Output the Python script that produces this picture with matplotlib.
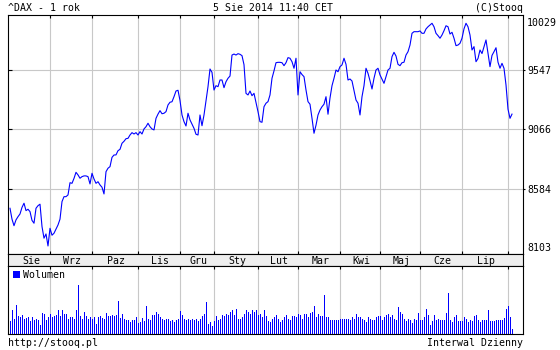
import matplotlib
matplotlib.use("Agg")
import matplotlib.pyplot as plt
import numpy as np

# DAX daily close, one value per session (Aug 2013 - Aug 2014)
close = [
    8428, 8340, 8287, 8334, 8360, 8382, 8435, 8469, 8409, 8420,
    8401, 8330, 8307, 8428, 8449, 8461, 8280, 8186, 8220, 8123,
    8266, 8210, 8226, 8260, 8293, 8340, 8482, 8522, 8522, 8536,
    8635, 8630, 8670, 8719, 8698, 8671, 8684, 8690, 8690, 8684,
    8625, 8711, 8665, 8630, 8643, 8617, 8598, 8544, 8724, 8752,
    8765, 8840, 8859, 8860, 8894, 8905, 8954, 8970, 8991, 8994,
    9021, 9040, 9029, 9040, 9021, 9048, 9029, 9070, 9088, 9116,
    9088, 9070, 9062, 9156, 9190, 9218, 9193, 9197, 9210, 9264,
    9286, 9290, 9331, 9377, 9383, 9300, 9183, 9129, 9094, 9197,
    9143, 9108, 9075, 9027, 9021, 9183, 9096, 9183, 9300, 9412,
    9555, 9528, 9385, 9420, 9412, 9466, 9466, 9404, 9452, 9480,
    9498, 9668, 9676, 9668, 9679, 9674, 9663, 9590, 9358, 9345,
    9377, 9339, 9358, 9286, 9210, 9129, 9124, 9250, 9278, 9291,
    9345, 9480, 9540, 9606, 9609, 9609, 9606, 9582, 9606, 9647,
    9642, 9614, 9561, 9642, 9345, 9533, 9510, 9493, 9385, 9291,
    9270, 9156, 9035, 9100, 9183, 9223, 9250, 9270, 9331, 9189,
    9320, 9420, 9480, 9547, 9533, 9574, 9588, 9642, 9593, 9466,
    9474, 9458, 9380, 9304, 9278, 9183, 9331, 9420, 9561, 9520,
    9460, 9393, 9480, 9547, 9561, 9507, 9474, 9439, 9493, 9547,
    9561, 9655, 9690, 9660, 9593, 9582, 9606, 9610, 9668, 9695,
    9749, 9844, 9857, 9857, 9857, 9863, 9844, 9844, 9879, 9897,
    9911, 9925, 9897, 9844, 9825, 9804, 9830, 9865, 9905, 9897,
    9838, 9852, 9804, 9744, 9749, 9763, 9804, 9880, 9925, 9897,
    9830, 9709, 9736, 9614, 9640, 9709, 9680, 9736, 9790, 9682,
    9574, 9665, 9695, 9727, 9610, 9561, 9601, 9561, 9426, 9230,
    9156, 9190,
]

# daily volume (arbitrary units)
volume = [
    38, 70, 45, 85, 52, 50, 55, 45, 48, 50,
    38, 50, 40, 45, 40, 25, 62, 60, 40, 50,
    58, 50, 52, 55, 72, 52, 72, 60, 58, 45,
    50, 50, 45, 70, 145, 52, 45, 65, 52, 45,
    50, 45, 50, 28, 50, 52, 48, 45, 62, 53,
    52, 57, 52, 55, 97, 48, 60, 45, 42, 40,
    35, 42, 40, 50, 32, 35, 48, 38, 82, 45,
    40, 55, 55, 64, 58, 50, 45, 40, 45, 45,
    38, 42, 35, 40, 45, 67, 55, 45, 40, 45,
    40, 45, 40, 45, 38, 45, 52, 58, 95, 28,
    35, 22, 38, 52, 40, 45, 55, 52, 60, 55,
    65, 72, 55, 75, 45, 45, 50, 60, 72, 65,
    60, 72, 65, 72, 55, 60, 50, 70, 52, 38,
    35, 45, 50, 55, 45,
    35, 40, 50, 55, 45, 40, 52, 52, 50, 58,
    55, 45, 60, 60, 50, 62, 65, 82, 50, 58,
    52, 52, 115, 50, 50, 42, 40, 40, 40, 42,
    43, 43, 43, 45, 45, 40, 50, 45, 58, 50,
    50, 45, 42, 35, 50, 45, 42, 40, 50, 52,
    52, 42, 50, 55, 58, 50, 55, 45, 40, 80,
    65, 58, 45, 38, 45, 40, 32, 45, 40, 62,
    40, 42, 50, 75, 57, 25, 38, 55, 40, 45,
    40, 42, 42, 62, 122, 40, 35, 50, 55, 38,
    38, 38, 50, 45, 35, 40, 38, 52, 55, 40,
    35, 42, 42, 40, 70, 38, 38, 38, 40, 42,
    42, 40, 47, 75, 82, 50, 13,
]

month_names = ['Sie', 'Wrz', 'Paz', 'Lis', 'Gru', 'Sty', 'Lut', 'Mar', 'Kwi', 'Maj', 'Cze', 'Lip']
month_start = [21, 42, 65, 86, 103, 125, 145, 166, 186, 206, 227, 250]   # session index
y_ticks = [8584, 9066, 9547]
y_low, y_high = 8103, 10029

sessions = np.arange(1, len(close) + 1)
vol_sessions = np.arange(1, len(volume) + 1)

###---------------- layout (pixel boxes) ----------------###
W, H = 560, 350
def box(l, t, r, b):
    return [l / W, 1 - b / H, (r - l) / W, (b - t) / H]

font = 'DejaVu Sans Mono'
fs = 7.1
blue = '#0000ff'
grid_c = '#c8c8c8'
x_lim = (0, 257.5)

fig = plt.figure(figsize=(W / 100, H / 100), dpi=100)
ax = fig.add_axes(box(8, 15, 523, 254))
band = fig.add_axes(box(8, 254, 523, 266))
axv = fig.add_axes(box(8, 266, 523, 334))

###---------------- price panel ----------------###
ax.plot(sessions, close, color=blue, lw=0.8, zorder=3)
ax.set_xlim(*x_lim)
ax.set_ylim(8058, 9992)
ax.set_xticks(month_start)
ax.set_xticklabels([])
ax.set_yticks(y_ticks)
ax.set_yticklabels([str(v) for v in y_ticks], fontsize=fs, family=font)
ax.yaxis.set_ticks_position('right')
ax.yaxis.set_minor_locator(matplotlib.ticker.FixedLocator(y_ticks))
ax.yaxis.remove_overlapping_locs = False
ax.tick_params(axis='y', which='major', direction='out', length=1.5, width=0.8,
               pad=1.4, left=False, right=True, labelleft=False, labelright=True)
ax.tick_params(axis='y', which='minor', direction='in', length=2.9, width=0.8,
               left=True, right=False)
ax.tick_params(axis='x', direction='in', length=2.5, width=0.8, top=True, bottom=True)
ax.grid(True, color=grid_c, lw=0.8)
ax.set_axisbelow(True)
for sp in ax.spines.values():
    sp.set_linewidth(0.8)
ax.text(1 + 4 / 515, 1 - 7.5 / 239, str(y_high), transform=ax.transAxes,
        fontsize=fs, family=font, va='center', ha='left')
ax.text(1 + 4 / 515, y_low, str(y_low),
        transform=matplotlib.transforms.blended_transform_factory(ax.transAxes, ax.transData),
        fontsize=fs, family=font, va='center', ha='left')

###---------------- month band ----------------###
band.set_facecolor('#eeeeee')
band.set_xlim(*x_lim)
band.set_ylim(0, 1)
band.set_xticks([])
band.set_yticks([])
for sp in band.spines.values():
    sp.set_linewidth(0.8)
edges = [1] + month_start
for i, name in enumerate(month_names):
    band.text((edges[i] + edges[i + 1]) / 2 + 0.6, 0.17, name, ha='center', va='baseline',
              fontsize=fs, family=font)

###---------------- volume panel ----------------###
bars = axv.bar(vol_sessions, volume, width=0.5, align='edge', color=blue, lw=0,
               antialiased=False, label='Wolumen')
axv.set_xlim(*x_lim)
axv.set_ylim(-1.5, 202.5)
axv.set_xticks(month_start)
axv.set_xticklabels([])
axv.set_yticks([])
axv.tick_params(axis='x', direction='in', length=2.5, width=0.8, top=True, bottom=False)
axv.grid(True, axis='x', color=grid_c, lw=0.8)
axv.set_axisbelow(True)
for sp in axv.spines.values():
    sp.set_linewidth(0.8)
axv.legend(loc='upper left', bbox_to_anchor=(5 / 515, 1 - 4 / 68), frameon=False,
           borderpad=0, borderaxespad=0, handlelength=0.7, handleheight=0.7,
           handletextpad=0.35, prop={'family': font, 'size': fs})

###---------------- header / footer ----------------###
def ftext(x, y, s, ha):
    fig.text(x / W, 1 - y / H, s, ha=ha, va='baseline', fontsize=fs, family=font)

ftext(8, 11, '^DAX - 1 rok', 'left')
ftext(273, 11, '5 Sie 2014 11:40 CET', 'center')
ftext(523, 11, '(C)Stooq', 'right')
ftext(8, 346.5, 'http://stooq.pl', 'left')
ftext(523, 346.5, 'Interwal Dzienny', 'right')

fig.savefig('out.png', dpi=100, facecolor='white')
